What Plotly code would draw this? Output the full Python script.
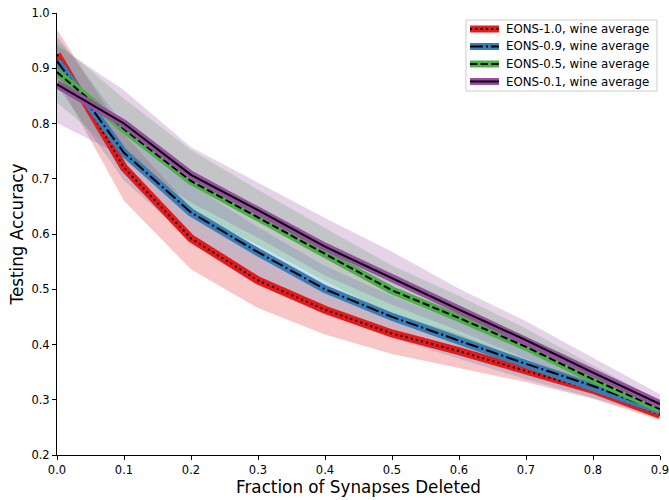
import plotly.graph_objects as go

x_vals = [0.0, 0.1, 0.2, 0.3, 0.4, 0.5, 0.6, 0.7, 0.8, 0.9]

names = ["EONS-1.0, wine average", "EONS-0.9, wine average",
         "EONS-0.5, wine average", "EONS-0.1, wine average"]

mean_10 = [0.925, 0.720, 0.592, 0.516, 0.463, 0.420, 0.388, 0.352, 0.318, 0.273]
mean_09 = [0.913, 0.747, 0.639, 0.567, 0.500, 0.450, 0.407, 0.365, 0.325, 0.280]
mean_05 = [0.893, 0.790, 0.696, 0.630, 0.563, 0.498, 0.448, 0.396, 0.337, 0.283]
mean_01 = [0.871, 0.800, 0.707, 0.643, 0.577, 0.520, 0.463, 0.408, 0.349, 0.292]

std_10 = [0.045, 0.060, 0.056, 0.050, 0.045, 0.037, 0.030, 0.020, 0.016, 0.010]
std_09 = [0.045, 0.050, 0.050, 0.045, 0.042, 0.038, 0.033, 0.028, 0.022, 0.012]
std_05 = [0.055, 0.055, 0.056, 0.050, 0.048, 0.045, 0.040, 0.033, 0.025, 0.015]
std_01 = [0.070, 0.060, 0.050, 0.050, 0.052, 0.048, 0.038, 0.034, 0.027, 0.018]

means = [mean_10, mean_09, mean_05, mean_01]
stds = [std_10, std_09, std_05, std_01]
colors = ["#e41a1c", "#377eb8", "#4daf4a", "#984ea3"]
fills = ["rgba(228,26,28,0.25)", "rgba(55,126,184,0.25)",
         "rgba(77,175,74,0.25)", "rgba(152,78,163,0.25)"]
dashes = ["2px,3.3px", "12.8px,3.2px,2px,3.2px", "7.4px,3.2px", "solid"]

W, H = 669, 500
# plot area in page pixels: x 57..660, y 13..455
L, R, T, B = 57, 669 - 660, 13, 500 - 455
PW, PH = W - L - R, H - T - B

def px(xp):
    return (xp - L) / PW

def py(yp):
    return (H - B - yp) / PH

fig = go.Figure()

# bands
for m, s, fc in zip(means, stds, fills):
    upper = [a + b for a, b in zip(m, s)]
    lower = [a - b for a, b in zip(m, s)]
    fig.add_trace(go.Scatter(x=x_vals + x_vals[::-1], y=upper + lower[::-1],
                             fill="toself", fillcolor=fc, mode="lines",
                             line=dict(width=0), hoverinfo="skip", showlegend=False))

# lines
for m, c, d in zip(means, colors, dashes):
    fig.add_trace(go.Scatter(x=x_vals, y=m, mode="lines",
                             line=dict(color=c, width=8), showlegend=False))
    fig.add_trace(go.Scatter(x=x_vals, y=m, mode="lines",
                             line=dict(color="black", width=2, dash=d), showlegend=False))

# manual legend
shapes = []
annotations = []
shapes.append(dict(type="rect", xref="paper", yref="paper",
                   x0=px(466), x1=px(657), y0=py(91), y1=py(20),
                   line=dict(color="#cccccc", width=1), fillcolor="rgba(255,255,255,0.8)",
                   layer="above"))
entry_y = [29, 46.5, 64, 81.5]
for name, c, d, ey in zip(names, colors, dashes, entry_y):
    shapes.append(dict(type="rect", xref="paper", yref="paper",
                       x0=px(470), x1=px(499), y0=py(ey + 3.5), y1=py(ey - 3.5),
                       line=dict(width=0), fillcolor=c, layer="above"))
    shapes.append(dict(type="line", xref="paper", yref="paper",
                       x0=px(470), x1=px(499), y0=py(ey), y1=py(ey),
                       line=dict(color="black", width=2, dash=d), layer="above"))
    annotations.append(dict(xref="paper", yref="paper", x=px(504), y=py(ey),
                            text=name, showarrow=False, xanchor="left", yanchor="middle",
                            font=dict(family="DejaVu Sans", size=11.8, color="black")))

fig.update_layout(
    width=W, height=H,
    margin=dict(l=L, r=R, t=T, b=B, autoexpand=False),
    plot_bgcolor="white", paper_bgcolor="white",
    font=dict(family="DejaVu Sans", size=11.5, color="black"),
    showlegend=False,
    shapes=shapes, annotations=annotations,
    xaxis=dict(range=[0, 0.9], tickvals=x_vals, ticktext=[f"{v:.1f}" for v in x_vals],
               showgrid=False, zeroline=False, showline=True, linecolor="black",
               linewidth=1, ticks="outside", ticklen=4, tickcolor="black",
               ticklabeloverflow="allow",
               title=dict(text="Fraction of Synapses Deleted", font=dict(size=16.8), standoff=5)),
    yaxis=dict(range=[0.2, 1.0], tickvals=[0.2, 0.3, 0.4, 0.5, 0.6, 0.7, 0.8, 0.9, 1.0],
               ticktext=["0.2", "0.3", "0.4", "0.5", "0.6", "0.7", "0.8", "0.9", "1.0"],
               showgrid=False, zeroline=False, showline=True, linecolor="black",
               linewidth=1, ticks="outside", ticklen=4, tickcolor="black",
               ticklabeloverflow="allow",
               title=dict(text="Testing Accuracy", font=dict(size=16.8), standoff=3)),
)

fig.write_html("out.html", config={"displayModeBar": False},
               post_script="document.body.style.margin='0';document.body.style.overflow='hidden';")
